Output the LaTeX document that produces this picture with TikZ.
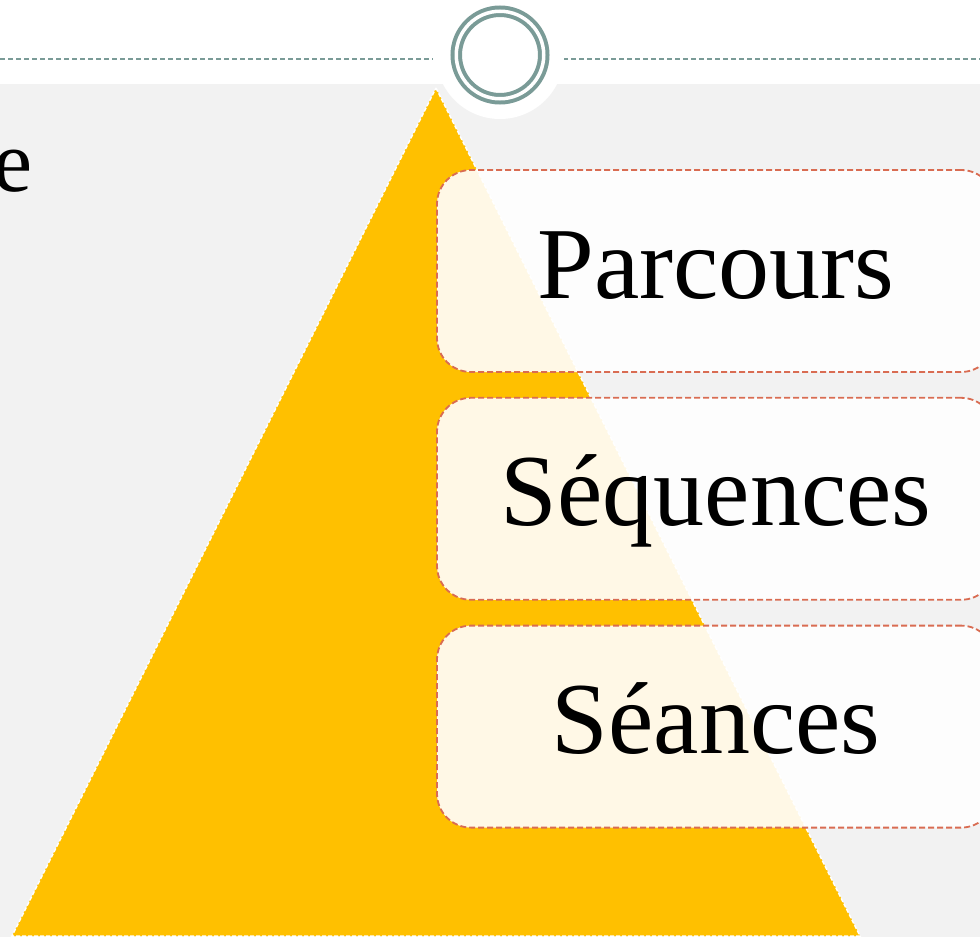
\documentclass[tikz,border=0pt]{standalone}
\usepackage{fontspec}
\setmainfont{Liberation Serif}
\usetikzlibrary{positioning}
\definecolor{ringGrey}{RGB}{122,155,151}
\definecolor{pyrYellow}{RGB}{255,192,0}
\definecolor{boxRed}{RGB}{217,108,82}
\definecolor{bgGrey}{RGB}{242,242,242}

\tikzset{
	levelbox/.style={draw=boxRed,dash pattern=on 6pt off 3pt,line width=1.8pt,
		rounded corners=34pt,fill=white,fill opacity=0.9,text opacity=1,
		minimum width=558pt,minimum height=202pt,inner sep=0pt,
		text height=70pt,text depth=16pt,font=\fontsize{102}{102}\selectfont},
	logoring/.style={circle,draw=ringGrey,double=white,double distance=3.5pt,
		line width=4pt,minimum size=87.5pt,inner sep=0pt},
}

\begin{document}
\begin{tikzpicture}[x=1pt,y=-1pt]
		\useasboundingbox (0,0) rectangle (980,937);
		\clip (0,0) rectangle (980,937);
		% background
		\fill[white] (0,0) rectangle (980,937);
		\fill[bgGrey] (0,84) rectangle (980,937);
		% header line
		\coordinate (lineA) at (0,59);
		\coordinate (lineB) at (433,59);
		\coordinate (lineC) at (563,59);
		\coordinate (lineD) at (980,59);
		\draw[ringGrey,line width=1.3pt,dash pattern=on 5pt off 3pt] (lineA) -- (lineB);
		\draw[ringGrey,line width=1.3pt,dash pattern=on 5pt off 3pt] (lineC) -- (lineD);
		% logo
		\fill[white] (500,55) circle (64);
		\node[logoring] (logo) at (500,55) {};
		% pyramid
		\draw[white,line width=1.5pt,dash pattern=on 4pt off 2pt,fill=pyrYellow]
			(436,88) -- (860,936) -- (12,936) -- cycle;
		% cut word
		\node[anchor=base east,inner sep=0pt,font=\fontsize{88}{88}\selectfont] (cutword) at (33,191) {e};
		% levels
		\node[levelbox] (parcours) at (716,271) {Parcours};
		\node[levelbox,below=24pt of parcours] (sequences) {Séquences};
		\node[levelbox,below=24pt of sequences] (seances) {Séances};
\end{tikzpicture}
\end{document}
